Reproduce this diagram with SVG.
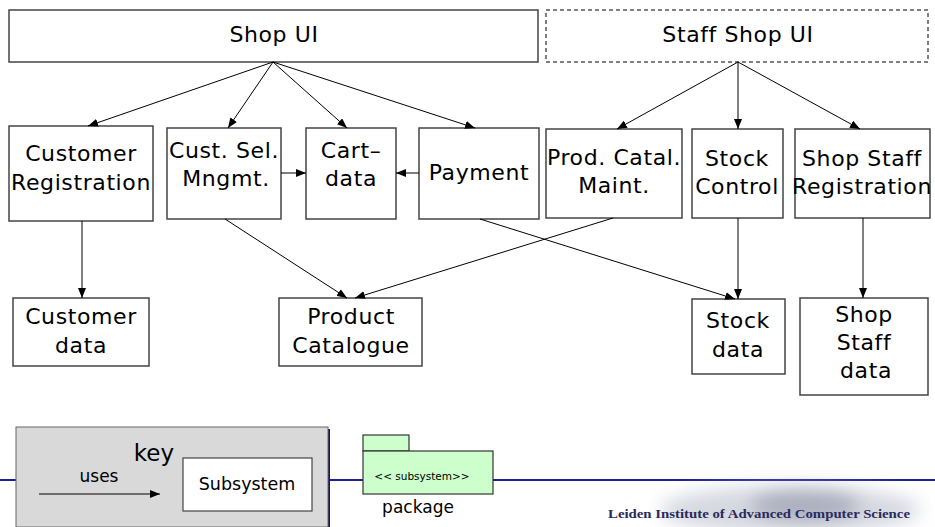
<svg xmlns="http://www.w3.org/2000/svg" width="935" height="527" viewBox="0 0 935 527">
  <defs>
    <marker id="arrow" viewBox="0 0 10 8" refX="10" refY="4" markerWidth="10" markerHeight="8" markerUnits="userSpaceOnUse" orient="auto">
      <path d="M0,0 L10,4 L0,8 z" fill="#000"/>
    </marker>
    <filter id="soft" x="-30%" y="-80%" width="160%" height="260%">
      <feGaussianBlur stdDeviation="9"/>
    </filter>
    <style>
      .box { fill: #fff; stroke: #444; stroke-width: 1.5; }
      .dashed { fill: #fff; stroke: #555; stroke-width: 1.5; stroke-dasharray: 4 3; }
      .lbl { font-family: "DejaVu Sans", "Liberation Sans", sans-serif; font-size: 22px; letter-spacing: 0.6px; fill: #000; text-anchor: middle; }
      .edge { stroke: #000; stroke-width: 1; fill: none; marker-end: url(#arrow); }
      .small { font-family: "DejaVu Sans", "Liberation Sans", sans-serif; fill: #000; }
    </style>
  </defs>

  <rect width="935" height="527" fill="#fff"/>

  <!-- top-level user interfaces -->
  <g id="shop-ui">
    <rect class="box" x="9" y="10" width="529" height="52"/>
    <text class="lbl" x="274" y="42">Shop UI</text>
  </g>
  <g id="staff-shop-ui">
    <rect class="dashed" x="546" y="10" width="382" height="52"/>
    <text class="lbl" x="738" y="42">Staff Shop UI</text>
  </g>

  <!-- subsystems -->
  <g id="customer-registration">
    <rect class="box" x="9" y="126" width="144" height="95"/>
    <text class="lbl" x="81" y="161">Customer</text>
    <text class="lbl" x="81" y="190">Registration</text>
  </g>
  <g id="cust-sel-mngmt">
    <rect class="box" x="167" y="128" width="114" height="91"/>
    <text class="lbl" x="224" y="158">Cust. Sel.</text>
    <text class="lbl" x="226" y="186">Mngmt.</text>
  </g>
  <g id="cart-data">
    <rect class="box" x="306" y="128" width="90" height="91"/>
    <text class="lbl" x="351" y="158">Cart–</text>
    <text class="lbl" x="351" y="186">data</text>
  </g>
  <g id="payment">
    <rect class="box" x="419" y="128" width="120" height="91"/>
    <text class="lbl" x="479" y="180">Payment</text>
  </g>
  <g id="prod-catal-maint">
    <rect class="box" x="546" y="129" width="136" height="89"/>
    <text class="lbl" x="614" y="165">Prod. Catal.</text>
    <text class="lbl" x="614" y="193">Maint.</text>
  </g>
  <g id="stock-control">
    <rect class="box" x="692" y="129" width="91" height="89"/>
    <text class="lbl" x="737" y="166">Stock</text>
    <text class="lbl" x="737" y="194">Control</text>
  </g>
  <g id="shop-staff-registration">
    <rect class="box" x="795" y="129" width="135" height="89"/>
    <text class="lbl" x="862" y="166">Shop Staff</text>
    <text class="lbl" x="862" y="194">Registration</text>
  </g>

  <!-- data stores -->
  <g id="customer-data">
    <rect class="box" x="13" y="298" width="136" height="68"/>
    <text class="lbl" x="81" y="324">Customer</text>
    <text class="lbl" x="81" y="353">data</text>
  </g>
  <g id="product-catalogue">
    <rect class="box" x="279" y="298" width="143" height="68"/>
    <text class="lbl" x="351" y="324">Product</text>
    <text class="lbl" x="351" y="353">Catalogue</text>
  </g>
  <g id="stock-data">
    <rect class="box" x="692" y="299" width="93" height="75"/>
    <text class="lbl" x="738" y="328">Stock</text>
    <text class="lbl" x="738" y="357">data</text>
  </g>
  <g id="shop-staff-data">
    <rect class="box" x="800" y="298" width="128" height="97"/>
    <text class="lbl" x="864" y="322">Shop</text>
    <text class="lbl" x="864" y="350">Staff</text>
    <text class="lbl" x="866" y="378">data</text>
  </g>

  <!-- uses relations -->
  <g id="connectors">
    <line class="edge" x1="273" y1="62" x2="88" y2="126"/>
    <line class="edge" x1="273" y1="62" x2="228" y2="128"/>
    <line class="edge" x1="273" y1="62" x2="347" y2="128"/>
    <line class="edge" x1="273" y1="62" x2="475" y2="128"/>
    <line class="edge" x1="738" y1="62" x2="617" y2="129"/>
    <line class="edge" x1="738" y1="62" x2="738" y2="129"/>
    <line class="edge" x1="738" y1="62" x2="860" y2="129"/>
    <line class="edge" x1="281" y1="173" x2="306" y2="173"/>
    <line class="edge" x1="419" y1="173" x2="396" y2="173"/>
    <line class="edge" x1="82" y1="221" x2="82" y2="298"/>
    <line class="edge" x1="225" y1="219" x2="347" y2="298"/>
    <line class="edge" x1="613" y1="218" x2="355" y2="298"/>
    <line class="edge" x1="480" y1="219" x2="735" y2="299"/>
    <line class="edge" x1="738" y1="218" x2="738" y2="299"/>
    <line class="edge" x1="863" y1="218" x2="863" y2="298"/>
  </g>

  <!-- footer rule -->
  <line x1="0" y1="480" x2="935" y2="480" stroke="#1f1f96" stroke-width="2"/>

  <!-- legend -->
  <g id="key">
    <rect x="18" y="429" width="312" height="100" fill="#14145a"/>
    <rect x="16" y="427" width="312" height="100" fill="#d9d9d9" stroke="#666" stroke-width="1"/>
    <text class="small" x="154" y="461" font-size="23" text-anchor="middle">key</text>
    <text class="small" x="99" y="482" font-size="17" text-anchor="middle">uses</text>
    <line class="edge" x1="39" y1="494" x2="160" y2="494"/>
    <rect x="183" y="458" width="129" height="53" fill="#fff" stroke="#444" stroke-width="1.2"/>
    <text class="small" x="247" y="490" font-size="17.5" text-anchor="middle">Subsystem</text>
  </g>

  <g id="package">
    <rect x="363" y="435" width="46" height="16" fill="#ccffcc" stroke="#333" stroke-width="1.2"/>
    <rect x="363" y="451" width="130" height="43" fill="#ccffcc" stroke="#333" stroke-width="1.2"/>
    <text class="small" x="422" y="480" font-size="10.5" text-anchor="middle">&lt;&lt; subsystem&gt;&gt;</text>
    <text class="small" x="418" y="513" font-size="17" text-anchor="middle">package</text>
  </g>

  <!-- institute banner over a faded building photo -->
  <g id="banner">
    <g filter="url(#soft)">
      <ellipse cx="790" cy="510" rx="130" ry="24" fill="#c4c7d3" opacity="0.7"/>
      <ellipse cx="805" cy="505" rx="55" ry="16" fill="#8f93a6" opacity="0.6"/>
    </g>
    <text x="608" y="518" font-family="Liberation Serif, serif" font-size="13.5" font-weight="bold" fill="#2a2a5c" textLength="302" lengthAdjust="spacingAndGlyphs">Leiden Institute of Advanced Computer Science</text>
  </g>
</svg>
